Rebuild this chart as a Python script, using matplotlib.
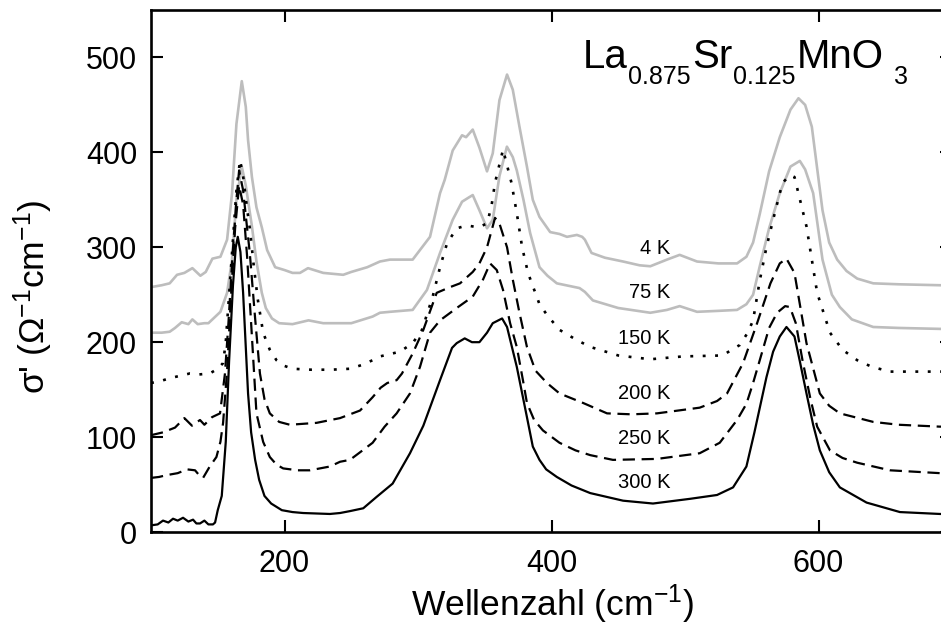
import matplotlib
matplotlib.use("Agg")
import matplotlib.pyplot as plt

plt.rcParams['font.family'] = ['Liberation Sans', 'DejaVu Sans']
plt.rcParams['mathtext.fontset'] = 'custom'
plt.rcParams['mathtext.rm'] = 'Liberation Sans'
plt.rcParams['mathtext.it'] = 'Liberation Sans'
plt.rcParams['mathtext.bf'] = 'Liberation Sans'

# ---- data (wavenumber cm^-1, sigma' Ohm^-1 cm^-1) ----
k4 = [(100,258),(108,260),(114,262),(119.5,271),(125,273),(131,278),(137,270),(141,274),(146,288),(152,290),
      (157,308),(160.7,357),(164,430),(168,475),(171,448),(172.7,413),(175.6,374),(179,342),(183,321),(187,297),
      (193,279),(200,276),(206,273),(211.6,273),(217.6,278),(229,273),(244,271),(250,274),(262,279),(271.5,285),
      (279,287),(296,287),(309,311),(316.5,357),(320,371),(326,402),(333,418),(336,416),(341,424),(346,405),
      (351.7,380),(356,399),(361,455),(366.7,482),(371,466),(376,427),(381.6,385),(386,350),(391,332),(399,316),
      (406,314),(411.6,311),(419,313),(423,311),(425,308),(430,294),(440,289),(453.6,285),(466,281),(474,280),
      (486.5,287),(496,292),(509,285),(525,283),(539,283),(546,290),(551,305),(556,335),(563,380),(571,416),
      (579,445),(585,457),(590,450),(595,427),(603,339),(608,305),(614,287),(621,275),(629,267),(641,262),
      (660,261),(691,260),(700,260)]
k75 = [(100,210),(108,210),(114,211),(118,215),(123,221),(128,219),(131,224),(135,219),(140,220),(143,220),
       (149,228),(152,232),(155,244),(157,252),(160.7,287),(164,350),(168,385),(171,365),(175.6,322),(179,285),
       (183,252),(186,236),(190.6,225),(196,220),(206,219),(218,223),(229,220),(241.6,220),(250,220),(266,227),
       (271.5,231),(279,232),(296,234),(306.7,255),(316.5,294),(326,329),(333,348),(337.5,352),(341,355),(346,339),
       (351.7,320),(356,329),(361,375),(366.6,406),(371,395),(374,381),(379,350),(384,315),(391,279),(397,270),
       (404,262),(421,257),(425,253),(431,244),(450,236),(474,231),(486.5,234),(496,238),(509,232),(525,233),
       (539,234),(546,240),(551,250),(556,280),(563,320),(571,357),(579,385),(586,391),(590,382),(596,357),
       (603,287),(610,250),(616,237),(625,224),(641,216),(660,215),(691,214),(700,214)]
k150 = [(100,157),(107,159),(114,162),(120,164),(129,167),(136,166),(144,167),(150,172),(154,178),(156,200),
        (158,240),(161,300),(164,360),(166.7,392),(169,375),(172,340),(174,320),(177,280),(180,245),(184,210),
        (189,192),(194,181),(200,175),(206,172),(220,171),(235,171),(249,172),(258,176),(266,181),(271.5,185),
        (286.5,190),(296,199),(303,213),(311,248),(316.5,279),(321.7,304),(329,320),(336.7,323),(345,321),(351.7,325),
        (355,343),(357.7,368),(363.7,403),(370,368),(374,336),(378,300),(382.4,273),(391,240),(397,228),(406,213),
        (418,203),(429,195),(450,186),(474,182),(498.5,185),(528,186),(541,197),(547,210),(551,223),(556,265),
        (561,300),(566,329),(573,368),(579,376),(582,374),(591,322),(599,252),(608.6,210),(618,192),(629,181),
        (640,174),(653.6,169),(691,169),(700,169)]
k200 = [(100,102),(109,105),(118,110),(125,120),(130.7,112),(136.7,118),(140,113),(145.7,121),(151.7,125),(155.4,167),
        (158,220),(161,290),(164,350),(166,381),(169,360),(172,320),(174,294),(178,225),(181.6,167),(185,140),
        (189,125),(196,116),(204,113),(224,115),(241.6,120),(256.6,128),(266,142),(272,152),(277,157),(284,160),
        (288,167),(296,188),(304,213),(314,252),(324,258),(331.5,262),(341,274),(346,283),(351.7,300),(357.7,331),
        (361,325),(366.7,300),(371,266),(376,231),(381.6,195),(388,170),(396.6,157),(406,146),(423.6,136),(441.6,125),
        (460,124),(479,125),(511,131),(524,138),(531.5,146),(543.5,178),(554,220),(564,262),(571,283),(576,288),
        (582,273),(591,199),(601,146),(608,133),(616,125),(641,116),(660,113),(691,111),(700,111)]
k250 = [(100,57),(106,58),(112,60),(120,62),(127,66),(133,65),(136,60),(139,57),(144,69),(149,79),
        (152,95),(154,115),(157,170),(160,250),(163,320),(166,365),(169,345),(172,290),(175,220),(179,125),
        (184,95),(189,79),(194,71),(199,67),(210,65),(219,65),(234,69),(241.6,74),(249,76),(256.6,84),
        (266,94),(275,111),(284,125),(294,146),(301.5,174),(309,210),(316.5,223),(329,236),(341,248),(348.7,266),
        (354,283),(359,276),(363.7,255),(369,220),(374,195),(378.6,160),(381.6,136),(387,118),(393.6,107),(406,94),
        (418,86),(429,81),(446,76),(479,77),(511,83),(526,94),(539,118),(546,135),(551,157),(556,181),
        (563,215),(569,231),(575,238),(578.6,237),(583,220),(588,181),(594,140),(599,111),(608.6,86),(618,78),
        (629,73),(653.6,65),(691,62),(700,62)]
k300 = [(100,7),(105,8),(109,12),(113,10),(116.5,14),(120,12),(124,15),(128,11),(131.5,13),(134,9),
        (136.7,9),(140,12),(143,8),(146.4,8),(148,10),(150,23),(153,38),(156,95),(158.5,180),(161.4,260),
        (163.5,300),(165,311),(167,295),(169,252),(172.7,146),(175,105),(178,76),(181,55),(185,38),(190,30),
        (198,23),(206,21),(214,20),(234,19),(241.6,20),(249,22),(259,25),(269,37),(281,51),(294,83),
        (304,112),(316.5,160),(325.5,194),(329,199),(335,204),(340.4,200),(346,200),(351.7,210),(356,220),(363,225),
        (366.7,216),(374,174),(381.6,121),(386,90),(391,76),(396,66),(404,58),(415,49),(429,41),(453.6,33),
        (476,30),(504,35),(524,39),(536,47),(546,69),(552,105),(561,163),(566,190),(571,206),(576,216),
        (582,206),(586,180),(591,146),(596,113),(601,86),(608,63),(616,47),(636,31),(661,21),(691,19),(700,19)]

labels = ['4 K', '75 K', '150 K', '200 K', '250 K', '300 K']
label_y = [299, 252, 204, 146, 98, 52]
label_x = 489
# title pieces: (text, is_subscript)
title_parts = [('La', False), ('0.875', True), ('Sr', False), ('0.125', True), ('MnO', False), ('3', True)]
xticks = [200, 400, 600]
yticks = [0, 100, 200, 300, 400, 500]

W, H = 941, 625
fig = plt.figure(figsize=(W / 100, H / 100), dpi=100)
ax = fig.add_axes([151 / W, 93 / H, 801 / W, 522 / H])

grey = '#bdbdbd'
lw = 1.6
styles = [
    (k4, dict(color=grey, lw=1.9, ls='-')),
    (k75, dict(color=grey, lw=1.9, ls='-')),
    (k150, dict(color='black', lw=1.9, ls=(0, (1.1, 3.6)))),
    (k200, dict(color='black', lw=lw, ls=(0, (5.5, 3.0)))),
    (k250, dict(color='black', lw=lw, ls=(0, (5.5, 3.0)))),
    (k300, dict(color='black', lw=lw, ls='-')),
]
for data, st in styles:
    xs = [p[0] for p in data]
    ys = [p[1] for p in data]
    ax.plot(xs, ys, solid_joinstyle='round', **st)

for lab, yy in zip(labels, label_y):
    ax.text(label_x, yy, lab, fontsize=14.5, ha='right', va='center')

# chemical formula title, pieces laid out left to right
renderer = fig.canvas.get_renderer()
xpos = 583.0
base_main = 68.0
base_sub = 84.0
for txt, sub in title_parts:
    size = 18 if sub else 29
    yb = base_sub if sub else base_main
    t = fig.text(xpos / W, 1 - yb / H, txt, fontsize=size, ha='left', va='baseline')
    bb = t.get_window_extent(renderer)
    xpos = bb.x1 + (1.0 if sub else 0.5)
    if txt == 'MnO':
        xpos += 10

ax.set_xlim(100, 700)
ax.set_ylim(0, 550)
ax.set_xticks(xticks)
ax.set_yticks(yticks)
ax.tick_params(direction='in', length=8.5, width=1.5, labelsize=22,
               top=True, right=True)
ax.tick_params(axis='x', pad=12)
ax.tick_params(axis='y', pad=10)
for sp in ax.spines.values():
    sp.set_linewidth(1.9)

ax.set_xlabel(r'Wellenzahl (cm$^{-1}$)', fontsize=25.5)
ax.set_ylabel(r"σ' ($\Omega^{-1}$cm$^{-1}$)", fontsize=25.5)
ax.xaxis.set_label_coords(0.5006, -0.097)
ax.yaxis.set_label_coords(-0.12, 0.45)

fig.savefig('out.png', dpi=100)
